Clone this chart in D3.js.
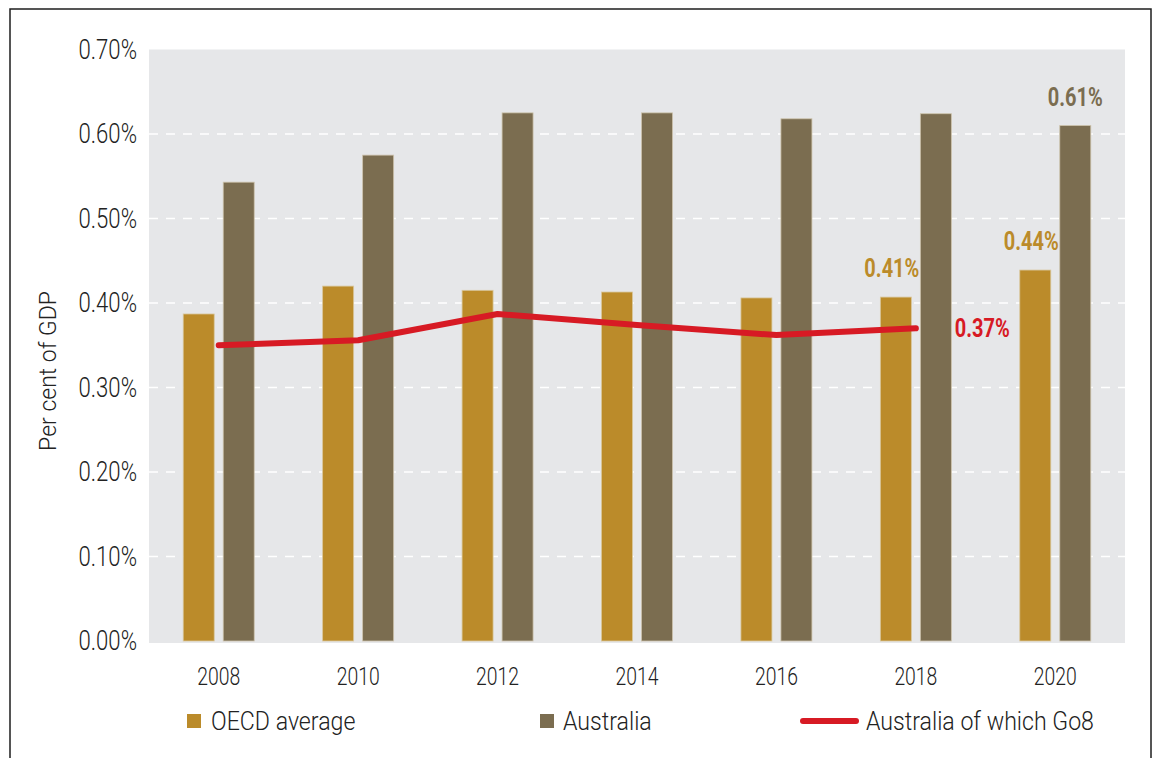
<!DOCTYPE html>
<html>
<head>
<meta charset="utf-8">
<script src="https://cdn.jsdelivr.net/npm/d3@7"></script>
<style>
  html, body { margin: 0; padding: 0; background: #fff; }
  svg { display: block; }
  text { font-family: Roboto, "Noto Sans", sans-serif; }
</style>
</head>
<body>
<div id="chart"></div>
<script>
// data (per cent of GDP)
const years = ["2008", "2010", "2012", "2014", "2016", "2018", "2020"];
const oecd = [0.387, 0.420, 0.415, 0.413, 0.406, 0.407, 0.439];
const australia = [0.543, 0.575, 0.625, 0.625, 0.618, 0.624, 0.610];
const go8Years = ["2008", "2010", "2012", "2014", "2016", "2018"];
const go8 = [0.350, 0.356, 0.387, 0.374, 0.362, 0.370];
const yTicks = [0, 0.1, 0.2, 0.3, 0.4, 0.5, 0.6, 0.7];
const seriesNames = ["OECD average", "Australia", "Australia of which Go8"];

const W = 1157, H = 758;
const plotL = 149, plotR = 1125, plotT = 49.5, zeroY = 641;

const colOecd = "#bb8b2a", colAus = "#7b6d50", colGo8 = "#d71a24";
const fmt = v => d3.format(".2f")(v) + "%";

const svg = d3.select("#chart").append("svg")
  .attr("width", W).attr("height", H);

// outer frame
svg.append("rect")
  .attr("x", 10).attr("y", 9).attr("width", 1141).attr("height", 780)
  .attr("fill", "none").attr("stroke", "#1e1e1e").attr("stroke-width", 1.5);

// plot background
svg.append("rect")
  .attr("x", plotL).attr("y", plotT).attr("width", plotR - plotL).attr("height", 643 - plotT)
  .attr("fill", "#e6e7e9");

const x0 = d3.scaleBand().domain(years).range([plotL, plotR]).padding(0);
const x1 = d3.scaleBand().domain(["oecd", "aus"]).range([-35.5, 35.5]).paddingInner(0.225);
const y = d3.scaleLinear().domain([0, 0.7]).range([zeroY, plotT]);

// dashed grid
svg.append("g").selectAll("line")
  .data(yTicks.filter(t => t > 0 && t < 0.7))
  .join("line")
  .attr("x1", plotL).attr("x2", plotR)
  .attr("y1", d => y(d)).attr("y2", d => y(d))
  .attr("stroke", "#fff").attr("stroke-width", 1.5)
  .attr("stroke-dasharray", "9,8");

// y axis
const yAxis = svg.append("g")
  .attr("transform", `translate(${plotL},0)`)
  .call(d3.axisLeft(y).tickValues(yTicks).tickFormat(fmt).tickSize(0).tickPadding(0));
yAxis.select(".domain").remove();
yAxis.selectAll("text")
  .attr("x", -12 / 0.82)
  .attr("transform", "scale(0.82,1)")
  .attr("fill", "#222").attr("font-size", 27).attr("font-weight", 300)
  .attr("font-family", "Roboto");

// x axis
const xAxis = svg.append("g")
  .attr("transform", `translate(0,${zeroY})`)
  .call(d3.axisBottom(x0).tickSize(0).tickPadding(0));
xAxis.select(".domain").remove();
xAxis.selectAll("text")
  .attr("x", 0).attr("y", 44).attr("dy", 0)
  .attr("transform", "scale(0.76,1)")
  .attr("fill", "#222").attr("font-size", 25.5).attr("font-weight", 300)
  .attr("font-family", "Roboto");

// y title
svg.append("text")
  .attr("transform", "translate(56,371) rotate(-90)")
  .attr("text-anchor", "middle")
  .attr("fill", "#222").attr("font-size", 23).attr("font-weight", 300)
  .text("Per cent of GDP");

// bars
const groups = svg.append("g").selectAll("g")
  .data(years)
  .join("g")
  .attr("transform", d => `translate(${x0(d) + x0.bandwidth() / 2},0)`);

groups.append("rect")
  .attr("x", x1("oecd")).attr("width", x1.bandwidth())
  .attr("y", (d, i) => y(oecd[i])).attr("height", (d, i) => zeroY - y(oecd[i]))
  .attr("fill", colOecd).attr("stroke", "#d9c79c").attr("stroke-width", 0.8);

groups.append("rect")
  .attr("x", x1("aus")).attr("width", x1.bandwidth())
  .attr("y", (d, i) => y(australia[i])).attr("height", (d, i) => zeroY - y(australia[i]))
  .attr("fill", colAus).attr("stroke", "#cdc3ac").attr("stroke-width", 0.8);

// Go8 line
const cx = d => x0(d) + x0.bandwidth() / 2;
svg.append("path")
  .datum(go8Years.map((d, i) => [cx(d), y(go8[i])]))
  .attr("d", d3.line())
  .attr("fill", "none").attr("stroke", colGo8).attr("stroke-width", 6)
  .attr("stroke-linecap", "round").attr("stroke-linejoin", "round");

// value labels
function label(xp, yp, txt, col, anchor) {
  svg.append("text")
    .attr("transform", `translate(${xp},${yp}) scale(0.8,1)`)
    .attr("text-anchor", anchor || "middle")
    .attr("fill", col).attr("font-size", 25).attr("font-weight", 700)
    .text(txt);
}
const i18 = years.indexOf("2018"), i20 = years.indexOf("2020");
label(cx("2018") + x1("oecd") + x1.bandwidth() / 2 - 4, y(oecd[i18]) - 20, fmt(oecd[i18]), colOecd);
label(cx("2020") + x1("oecd") + x1.bandwidth() / 2 - 4, y(oecd[i20]) - 20, fmt(oecd[i20]), colOecd);
label(cx("2020") + x1("aus") + x1.bandwidth() / 2, y(australia[i20]) - 20, fmt(australia[i20]), colAus);
const g8last = go8.length - 1;
label(cx(go8Years[g8last]) + 39, y(go8[g8last]) + 9, fmt(go8[g8last]), colGo8, "start");

// legend
const leg = svg.append("g");
const legItems = [
  { name: seriesNames[0], type: "box", col: colOecd, x: 187, tx: 211 },
  { name: seriesNames[1], type: "box", col: colAus, x: 540, tx: 563 },
  { name: seriesNames[2], type: "line", col: colGo8, x: 803, tx: 866 }
];
legItems.forEach(it => {
  if (it.type === "box") {
    leg.append("rect").attr("x", it.x).attr("y", 714).attr("width", 14).attr("height", 14)
      .attr("fill", it.col);
  } else {
    leg.append("line").attr("x1", it.x).attr("x2", it.x + 53).attr("y1", 721).attr("y2", 721)
      .attr("stroke", it.col).attr("stroke-width", 6).attr("stroke-linecap", "round");
  }
  leg.append("text")
    .attr("transform", `translate(${it.tx},730) scale(0.89,1)`)
    .attr("fill", "#222").attr("font-size", 26).attr("font-weight", 300)
    .text(it.name);
});
</script>
</body>
</html>
